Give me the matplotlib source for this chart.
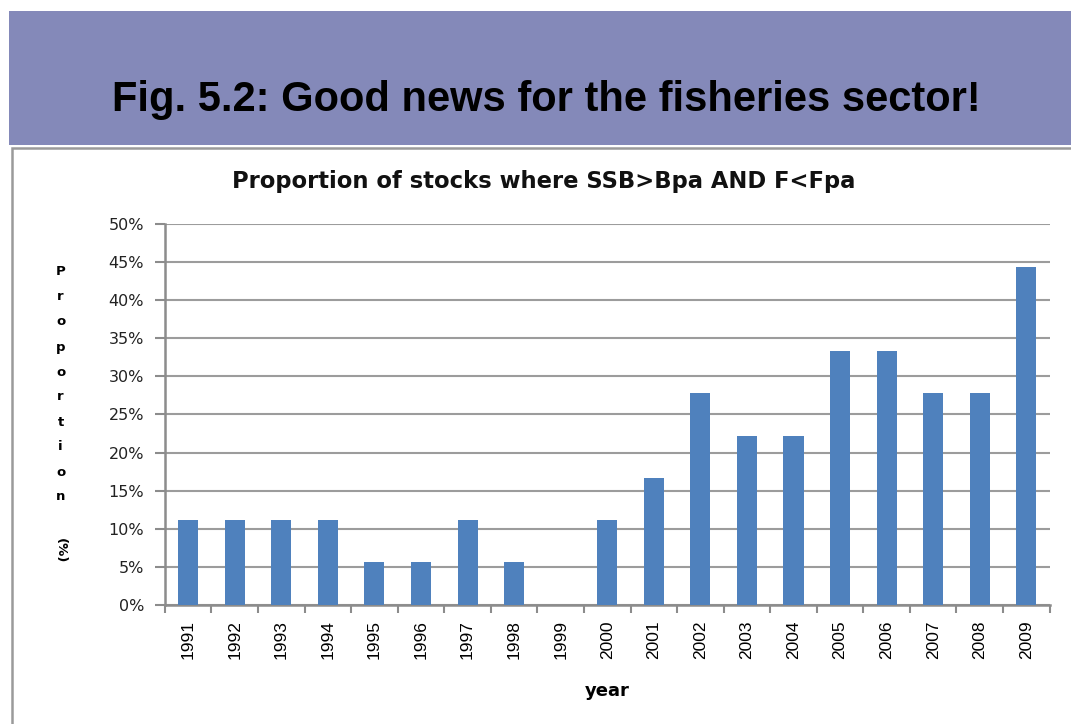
import matplotlib.pyplot as plt
from matplotlib.patches import Rectangle
import numpy as np

years = [str(y) for y in range(1991, 2010)]
# share of assessed stocks meeting both criteria (out of 18)
proportion = [11.1, 11.1, 11.1, 11.1, 5.6, 5.6, 11.1, 5.6, 0.0, 11.1,
              16.7, 27.8, 22.2, 22.2, 33.3, 33.3, 27.8, 27.8, 44.4]
y_ticks = [0, 5, 10, 15, 20, 25, 30, 35, 40, 45, 50]

fig = plt.figure(figsize=(10.71, 7.24), dpi=100)

# slide header band
fig.patches.append(Rectangle((0.0084, 0.7997), 1.0, 0.185, transform=fig.transFigure,
                             facecolor="#8489B9", edgecolor="none", zorder=-2))
fig.text(0.510, 0.862, "Fig. 5.2: Good news for the fisheries sector!",
         ha="center", va="center", fontsize=30, fontweight="bold",
         family="Liberation Sans", color="black")

# chart frame
fig.patches.append(Rectangle((0.0112, -0.01), 1.0, 0.806, transform=fig.transFigure,
                             facecolor="white", edgecolor="#9a9a9a", lw=1.8, zorder=-1))

ax = fig.add_axes([0.154, 0.1644, 0.826, 0.5262])
ax.patch.set_alpha(0)
x = np.arange(len(years))
ax.bar(x, proportion, width=0.43, color="#4F81BD", zorder=3)

ax.set_xlim(-0.5, len(years) - 0.5)
ax.set_ylim(0, 50)
ax.set_yticks(y_ticks)
ax.set_yticklabels([f"{t}%" for t in y_ticks], fontsize=11.5, family="DejaVu Sans", color="#222222")
ax.set_xticks(x)
ax.set_xticklabels(years, rotation=90, fontsize=12.5, family="Liberation Sans")
ax.set_xticks(np.arange(-0.5, len(years)), minor=True)
ax.tick_params(axis="x", which="major", length=0, pad=11)
ax.tick_params(axis="x", which="minor", length=6, width=1.5, color="#8c8c8c")
ax.tick_params(axis="y", length=7, width=1.5, color="#8c8c8c", pad=8)

ax.yaxis.grid(True, color="#9c9c9c", lw=1.5, zorder=0)
ax.set_axisbelow(True)
for side in ["top", "right"]:
    ax.spines[side].set_visible(False)
for side in ["left", "bottom"]:
    ax.spines[side].set_color("#8c8c8c")
    ax.spines[side].set_linewidth(1.8)

fig.text(0.508, 0.749, "Proportion of stocks where SSB>Bpa AND F<Fpa",
         ha="center", va="center", fontsize=16.3, fontweight="bold",
         family="DejaVu Sans", color="#111111")
fig.text(0.567, 0.045, "year", ha="center", va="center", fontsize=13,
         fontweight="bold", family="DejaVu Sans")

# stacked y-axis label
for i, ch in enumerate("Proportion"):
    fig.text(0.0565, 1 - (272 + i * 25) / 724, ch, ha="center", va="center",
             fontsize=9.5, fontweight="bold", family="DejaVu Sans")
fig.text(0.0565, 1 - 551 / 724, "(%)", ha="center", va="center", rotation=270,
         fontsize=9.5, fontweight="bold", family="DejaVu Sans")

fig.savefig("out.png", dpi=100)
